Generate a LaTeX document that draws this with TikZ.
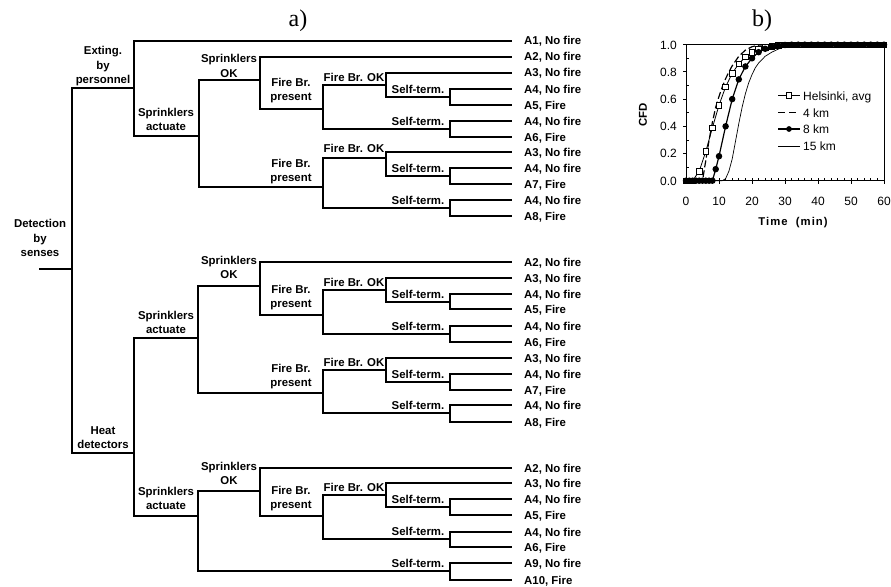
\documentclass[tikz,border=0pt]{standalone}
\usepackage{fontspec}
\setmainfont{Liberation Sans}
\newfontfamily\serifA{Liberation Serif}
\newfontfamily\spacedf[LetterSpace=9]{Liberation Sans}
\usetikzlibrary{plotmarks}
\begin{document}
\begin{tikzpicture}[x=1pt,y=-1pt,
  br/.style={line width=2pt,line join=miter},
  tf/.style={font=\fontsize{11.4}{14.4}\selectfont\bfseries},
  lbl/.style={tf,align=center,inner sep=0pt,anchor=south},
  leaf/.style={tf,inner sep=0pt,anchor=west,text height=8pt,text depth=0pt},
  pf/.style={font=\fontsize{12}{14}\selectfont,inner sep=0pt},
  ttl/.style={font=\serifA\fontsize{24}{26}\selectfont,inner sep=0pt,anchor=base}]
\useasboundingbox (0,0) rectangle (891,586);

% ---------- titles ----------
\node[ttl] (ta) at (298,27) {a)};
\node[ttl] (tb) at (762,27) {b)};

% ---------- tree branch points ----------
\coordinate (r0) at (39,269);
\coordinate (root) at (72,269);
\coordinate (EX) at (134,88);
\coordinate (HD) at (134,453);
\coordinate (SA1) at (199,136);
\coordinate (SOK1) at (260,80);
\coordinate (FBP1) at (323,109);
\coordinate (FBOK1) at (386,85);
\coordinate (ST1) at (450,97);
\coordinate (ST2) at (450,129);
\coordinate (FBP2) at (323,187);
\coordinate (FBOK2) at (386,158);
\coordinate (ST3) at (450,176);
\coordinate (ST4) at (450,208);
\coordinate (SA2) at (198,338);
\coordinate (SOK2) at (260,286);
\coordinate (FBP3) at (323,315);
\coordinate (FBOK3) at (386,290);
\coordinate (ST5) at (450,302);
\coordinate (ST6) at (450,334);
\coordinate (FBP4) at (323,393);
\coordinate (FBOK4) at (386,370);
\coordinate (ST7) at (450,382);
\coordinate (ST8) at (450,413);
\coordinate (SA3) at (198,516);
\coordinate (SOK3) at (260,491);
\coordinate (FBP5) at (323,516);
\coordinate (FBOK5) at (386,495);
\coordinate (ST9) at (450,507);
\coordinate (ST10) at (450,539);
\coordinate (ST11) at (450,571);

% ---------- outcome labels ----------
\node[leaf] (L1) at (524,41) {A1, No fire};
\node[leaf] (L2) at (524,57) {A2, No fire};
\node[leaf] (L3) at (524,73) {A3, No fire};
\node[leaf] (L4) at (524,89) {A4, No fire};
\node[leaf] (L5) at (524,105) {A5, Fire};
\node[leaf] (L6) at (524,121) {A4, No fire};
\node[leaf] (L7) at (524,137) {A6, Fire};
\node[leaf] (L8) at (524,152) {A3, No fire};
\node[leaf] (L9) at (524,168) {A4, No fire};
\node[leaf] (L10) at (524,184) {A7, Fire};
\node[leaf] (L11) at (524,200) {A4, No fire};
\node[leaf] (L12) at (524,216) {A8, Fire};
\node[leaf] (L13) at (524,262) {A2, No fire};
\node[leaf] (L14) at (524,278) {A3, No fire};
\node[leaf] (L15) at (524,294) {A4, No fire};
\node[leaf] (L16) at (524,309) {A5, Fire};
\node[leaf] (L17) at (524,326) {A4, No fire};
\node[leaf] (L18) at (524,342) {A6, Fire};
\node[leaf] (L19) at (524,358) {A3, No fire};
\node[leaf] (L20) at (524,374) {A4, No fire};
\node[leaf] (L21) at (524,390) {A7, Fire};
\node[leaf] (L22) at (524,405) {A4, No fire};
\node[leaf] (L23) at (524,422) {A8, Fire};
\node[leaf] (L24) at (524,468) {A2, No fire};
\node[leaf] (L25) at (524,483) {A3, No fire};
\node[leaf] (L26) at (524,499) {A4, No fire};
\node[leaf] (L27) at (524,515) {A5, Fire};
\node[leaf] (L28) at (524,532) {A4, No fire};
\node[leaf] (L29) at (524,547) {A6, Fire};
\node[leaf] (L30) at (524,563) {A9, No fire};
\node[leaf] (L31) at (524,580) {A10, Fire};

% ---------- branches ----------
\draw[br] (r0) -- (root);
\foreach \p/\c in {root/EX, root/HD, EX/SA1, SA1/SOK1, SA1/FBP2, SOK1/FBP1,
  FBP1/FBOK1, FBP1/ST2, FBOK1/ST1, FBP2/FBOK2, FBP2/ST4, FBOK2/ST3,
  HD/SA2, HD/SA3, SA2/SOK2, SA2/FBP4, SOK2/FBP3, FBP3/FBOK3, FBP3/ST6,
  FBOK3/ST5, FBP4/FBOK4, FBP4/ST8, FBOK4/ST7, SA3/SOK3, SA3/ST11,
  SOK3/FBP5, FBP5/FBOK5, FBP5/ST10, FBOK5/ST9}
  \draw[br] (\p) |- (\c);
\foreach \p/\c in {EX/L1, SOK1/L2, FBOK1/L3, ST1/L4, ST1/L5, ST2/L6, ST2/L7,
  FBOK2/L8, ST3/L9, ST3/L10, ST4/L11, ST4/L12, SOK2/L13, FBOK3/L14,
  ST5/L15, ST5/L16, ST6/L17, ST6/L18, FBOK4/L19, ST7/L20, ST7/L21,
  ST8/L22, ST8/L23, SOK3/L24, FBOK5/L25, ST9/L26, ST9/L27, ST10/L28,
  ST10/L29, ST11/L30, ST11/L31}
  \draw[br] (\p) |- ([xshift=-12pt]\c.west);

% ---------- branch labels ----------
\node[lbl] (tDS) at (40,257) {Detection\\by\\senses};
\node[lbl] (tEX) at (103,86) {Exting.\\by\\personnel};
\node[lbl] (tHD) at (103,449) {Heat\\detectors};
\node[lbl] (tSA1) at (166,131) {Sprinklers\\actuate};
\node[lbl] (tSA2) at (166,334) {Sprinklers\\actuate};
\node[lbl] (tSA3) at (166,510) {Sprinklers\\actuate};
\node[lbl] (tSOK1) at (229,77.5) {Sprinklers\\OK};
\node[lbl] (tSOK2) at (229,279) {Sprinklers\\OK};
\node[lbl] (tSOK3) at (229,485) {Sprinklers\\OK};
\node[lbl] (tFBP1) at (291,103) {Fire Br.\\present};
\node[lbl] (tFBP2) at (291,184) {Fire Br.\\present};
\node[lbl] (tFBP3) at (291,310) {Fire Br.\\present};
\node[lbl] (tFBP4) at (291,389) {Fire Br.\\present};
\node[lbl] (tFBP5) at (291,511) {Fire Br.\\present};
\node[lbl] (tFBOK1) at (354,82) {Fire Br. OK};
\node[lbl] (tFBOK2) at (354,153) {Fire Br. OK};
\node[lbl] (tFBOK3) at (354,287) {Fire Br. OK};
\node[lbl] (tFBOK4) at (354,367) {Fire Br. OK};
\node[lbl] (tFBOK5) at (354,492) {Fire Br. OK};
\node[lbl] (tST1) at (418,94) {Self-term.};
\node[lbl] (tST2) at (418,126) {Self-term.};
\node[lbl] (tST3) at (418,173) {Self-term.};
\node[lbl] (tST4) at (418,205) {Self-term.};
\node[lbl] (tST5) at (418,299) {Self-term.};
\node[lbl] (tST6) at (418,331) {Self-term.};
\node[lbl] (tST7) at (418,379) {Self-term.};
\node[lbl] (tST8) at (418,410) {Self-term.};
\node[lbl] (tST9) at (418,504) {Self-term.};
\node[lbl] (tST10) at (418,536) {Self-term.};
\node[lbl] (tST11) at (418,568) {Self-term.};

% ---------- chart b) ----------
\begin{scope}[shift={(686,180.7)},x=3.3pt,y=136pt]
  \draw[line width=0.9pt] (0,0) rectangle (60,1);
  \foreach \t in {0,10,...,60} \draw[line width=0.9pt] (\t,0) -- ++(0pt,-3.5pt);
  \foreach \t in {2,4,...,58} \draw[line width=0.7pt] (\t,0) -- ++(0pt,2.5pt);
  \foreach \v in {0,0.2,0.4,0.6,0.8,1} \draw[line width=0.9pt] (0,\v) -- ++(-3.5pt,0pt);
  \foreach \v in {0.1,0.3,0.5,0.7,0.9} \draw[line width=0.7pt] (0,\v) -- ++(2.5pt,0pt);
  \foreach \v/\l [count=\i] in {0/0.0,0.2/0.2,0.4/0.4,0.6/0.6,0.8/0.8,1/1.0}
    \node[pf,anchor=base east] (yt\i) at ([xshift=-9pt,yshift=-4.3pt]0,\v) {\l};
  \foreach \t [count=\i] in {0,10,...,60}
    \node[pf,anchor=base] (xt\i) at ([yshift=-24.3pt]\t,0) {\t};
  % 15 km
  \draw[line width=0.7pt] plot coordinates {(0,0) (11,0) (12,0.015) (13,0.07) (14,0.16)
    (15,0.29) (16,0.42) (17,0.54) (18,0.64) (19,0.72) (20,0.78) (21,0.83) (22,0.865)
    (23,0.89) (24,0.915) (26,0.945) (28,0.968) (30,0.985) (32,0.994) (34,1) (60,1)};
  % 4 km
  \draw[line width=1.2pt,dash pattern=on 7pt off 3pt] plot coordinates {(0,0) (5,0) (6,0.15)
    (7,0.3) (8,0.43) (9,0.54) (10,0.62) (11,0.69) (12,0.75) (13,0.8) (14,0.845)
    (16,0.915) (18,0.96) (20,0.985) (22,0.997) (24,1) (60,1)};
  % Helsinki, avg
  \draw[line width=0.8pt] plot[mark=square*,mark size=2.8pt,
      mark options={fill=white,line width=0.7pt,solid}] coordinates {(0,0) (2,0) (4,0.07)
    (6,0.215) (8,0.39) (10,0.555) (12,0.69) (14,0.79) (16,0.86) (18,0.91) (20,0.945)
    (22,0.97) (24,0.982) (26,0.99) (28,0.995) (30,1) (32,1) (34,1) (36,1) (38,1) (40,1)
    (42,1) (44,1) (46,1) (48,1) (50,1) (52,1) (54,1) (56,1) (58,1) (60,1)};
  % 8 km
  \draw[line width=1.2pt] plot[mark=*,mark size=2.6pt] coordinates {(0,0) (1,0) (2,0)
    (3,0) (4,0) (5,0) (6,0) (7,0) (8,0) (9,0.085) (10,0.18) (12,0.4) (14,0.6) (16,0.745)
    (18,0.84) (20,0.9) (22,0.945) (24,0.97) (26,0.985) (28,0.993) (30,0.998) (32,1) (34,1)
    (36,1) (38,1) (40,1) (42,1) (44,1) (46,1) (48,1) (50,1) (52,1) (54,1) (56,1) (58,1) (60,1)};
\end{scope}
\node[tf,rotate=90,inner sep=0pt] (cfd) at (643,115) {CFD};
\node[inner sep=0pt,font=\spacedf\bfseries\fontsize{11.3}{13}\selectfont] (tm) at (793,223) {Time\ \ (min)};

% legend
\draw[line width=0.8pt] (778,95.5) -- (800,95.5);
\draw plot[mark=square*,mark size=2.8pt,mark options={fill=white,line width=0.7pt}] coordinates {(789,95.5)};
\node[pf,anchor=base west] (lg1) at (803,100) {Helsinki, avg};
\draw[line width=1.2pt,dash pattern=on 7pt off 4pt] (778,112.5) -- (800,112.5);
\node[pf,anchor=base west] (lg2) at (803,117) {4 km};
\draw[line width=1.2pt] (778,129) -- (800,129);
\draw plot[mark=*,mark size=2.6pt] coordinates {(789,129)};
\node[pf,anchor=base west] (lg3) at (803,133.5) {8 km};
\draw[line width=0.7pt] (778,146) -- (800,146);
\node[pf,anchor=base west] (lg4) at (803,150.5) {15 km};
\end{tikzpicture}
\end{document}
